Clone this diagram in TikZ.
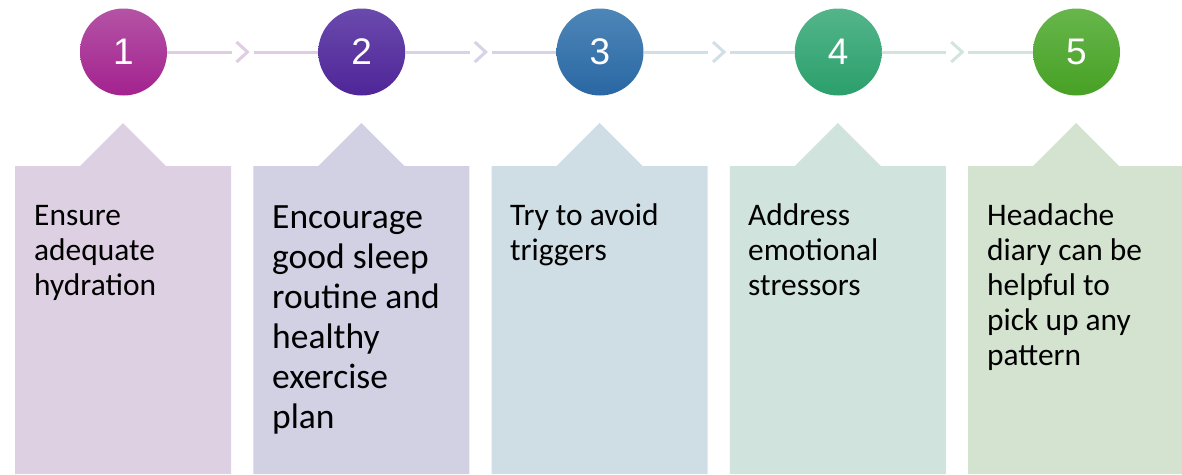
\documentclass[tikz,border=0pt]{standalone}
\usepackage{fontspec}
\setmainfont{Carlito}
\newfontfamily\numfont{Liberation Sans}
\definecolor{cA}{HTML}{A3228F}\definecolor{cAt}{HTML}{B453A5}
\definecolor{cB}{HTML}{4F2598}\definecolor{cBt}{HTML}{6A4AAD}
\definecolor{cC}{HTML}{2A67A3}\definecolor{cCt}{HTML}{4D86B8}
\definecolor{cD}{HTML}{2B9F6C}\definecolor{cDt}{HTML}{53B58A}
\definecolor{cE}{HTML}{47A124}\definecolor{cEt}{HTML}{67B64C}
\definecolor{bA}{HTML}{DDD0E3}\definecolor{bB}{HTML}{D2D1E4}
\definecolor{bC}{HTML}{CFDDE4}\definecolor{bD}{HTML}{D0E3DC}
\definecolor{bE}{HTML}{D4E3D0}
\definecolor{lA}{HTML}{E0CDE4}\definecolor{lB}{HTML}{D8D2E8}
\definecolor{lC}{HTML}{D1DFE6}\definecolor{lD}{HTML}{D1E5DE}
\tikzset{
  numcirc/.style={circle,minimum size=87pt,inner sep=0pt,text=white,font=\numfont\fontsize{37}{40}\selectfont},
  conn/.style={line width=3pt},
  chev/.style={line width=3pt,line join=miter},
  boxtext/.style={anchor=base west,inner sep=0pt,align=left},
}
\newcommand{\smalltext}[1]{\parbox[t]{190pt}{\fontsize{31.4}{35}\selectfont #1}}
\newcommand{\bigtext}[1]{\parbox[t]{200pt}{\fontsize{35.5}{40}\selectfont #1}}
\begin{document}
\begin{tikzpicture}[x=1pt,y=-1pt]
\useasboundingbox (0,0) rectangle (1182,474);
% boxes
\foreach \i/\col in {0/bA,1/bB,2/bC,3/bD,4/bE}{
  \pgfmathsetmacro{\xl}{15+238.25*\i}
  \fill[\col] (\xl,474) -- (\xl,166) -- (\xl+65,166) -- (\xl+108,123) -- (\xl+151,166) -- (\xl+216,166) -- (\xl+216,474) -- cycle;
}
% circles
\node[numcirc,top color=cAt,bottom color=cA] (c1) at (123.5,52) {1};
\node[numcirc,top color=cBt,bottom color=cB] (c2) at (361.75,52) {2};
\node[numcirc,top color=cCt,bottom color=cC] (c3) at (600,52) {3};
\node[numcirc,top color=cDt,bottom color=cD] (c4) at (838.25,52) {4};
\node[numcirc,top color=cEt,bottom color=cE] (c5) at (1076.5,52) {5};
% connectors with chevrons
\foreach \a/\b/\col/\x in {c1/c2/lA/242.5,c2/c3/lB/480.75,c3/c4/lC/719,c4/c5/lD/957.25}{
  \coordinate (l\a) at (\x-11,52);
  \coordinate (r\a) at (\x+11,52);
  \draw[conn,\col] (\a) -- (l\a);
  \draw[chev,\col] (\x-6,42) -- (\x+5,52) -- (\x-6,62);
  \draw[conn,\col] (r\a) -- (\b);
}
% texts
\node[boxtext] (t1) at (34,225) {\smalltext{Ensure\\adequate\\hydration}};
\node[boxtext] (t2) at (272,228) {\bigtext{Encourage\\good sleep\\routine and\\healthy\\exercise\\plan}};
\node[boxtext] (t3) at (510,225) {\smalltext{Try to avoid\\triggers}};
\node[boxtext] (t4) at (748,225) {\smalltext{Address\\emotional\\stressors}};
\node[boxtext] (t5) at (987,225) {\smalltext{Headache\\diary can be\\helpful to\\pick up any\\pattern}};
\end{tikzpicture}
\end{document}
